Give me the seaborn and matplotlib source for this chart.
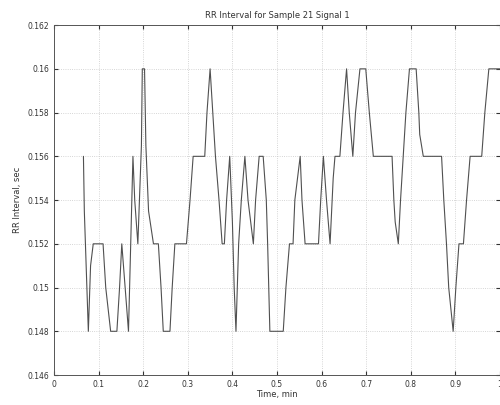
import matplotlib
matplotlib.use("Agg")
import matplotlib.pyplot as plt
import seaborn as sns
import pandas as pd

# vertices of the RR trace
time_min = [0.066, 0.068, 0.077, 0.082, 0.088, 0.110, 0.116, 0.127, 0.141, 0.147,
            0.152, 0.167, 0.172, 0.177, 0.181, 0.188, 0.196, 0.198, 0.203, 0.206,
            0.212, 0.223, 0.234, 0.240, 0.245, 0.260, 0.265, 0.271, 0.297, 0.305,
            0.312, 0.338, 0.343, 0.350, 0.356, 0.362, 0.370, 0.377, 0.382, 0.387,
            0.394, 0.400, 0.404, 0.408, 0.414, 0.420, 0.428, 0.435, 0.441, 0.447,
            0.452, 0.460, 0.469, 0.476, 0.479, 0.484, 0.514, 0.520, 0.528, 0.536,
            0.540, 0.552, 0.556, 0.563, 0.593, 0.598, 0.604, 0.611, 0.619, 0.626,
            0.630, 0.641, 0.648, 0.656, 0.662, 0.670, 0.676, 0.686, 0.699, 0.707,
            0.716, 0.758, 0.762, 0.765, 0.772, 0.777, 0.783, 0.789, 0.797, 0.812,
            0.818, 0.820, 0.828, 0.869, 0.874, 0.880, 0.885, 0.895, 0.901, 0.908,
            0.918, 0.925, 0.933, 0.959, 0.966, 0.975, 1.000]
rr_sec = [0.156, 0.1535, 0.148, 0.151, 0.152, 0.152, 0.150, 0.148, 0.148, 0.150,
          0.152, 0.148, 0.152, 0.156, 0.154, 0.152, 0.1565, 0.160, 0.160, 0.1565,
          0.1535, 0.152, 0.152, 0.150, 0.148, 0.148, 0.150, 0.152, 0.152, 0.154,
          0.156, 0.156, 0.158, 0.160, 0.158, 0.156, 0.154, 0.152, 0.152, 0.154,
          0.156, 0.153, 0.150, 0.148, 0.152, 0.154, 0.156, 0.154, 0.153, 0.152,
          0.154, 0.156, 0.156, 0.154, 0.152, 0.148, 0.148, 0.150, 0.152, 0.152,
          0.154, 0.156, 0.154, 0.152, 0.152, 0.154, 0.156, 0.154, 0.152, 0.155,
          0.156, 0.156, 0.158, 0.160, 0.158, 0.156, 0.158, 0.160, 0.160, 0.158,
          0.156, 0.156, 0.154, 0.153, 0.152, 0.154, 0.156, 0.158, 0.160, 0.160,
          0.158, 0.157, 0.156, 0.156, 0.154, 0.152, 0.150, 0.148, 0.150, 0.152,
          0.152, 0.154, 0.156, 0.156, 0.158, 0.160, 0.160]

x_ticks = [0, 0.1, 0.2, 0.3, 0.4, 0.5, 0.6, 0.7, 0.8, 0.9, 1]
x_labels = ["0", "0.1", "0.2", "0.3", "0.4", "0.5", "0.6", "0.7", "0.8", "0.9", "1"]
y_ticks = [0.146, 0.148, 0.15, 0.152, 0.154, 0.156, 0.158, 0.16, 0.162]
y_labels = ["0.146", "0.148", "0.15", "0.152", "0.154", "0.156", "0.158", "0.16", "0.162"]

sns.set_style("white")
plt.rcParams['font.family'] = ['DejaVu Sans']

df = pd.DataFrame({"time": time_min, "rr": rr_sec})

fig = plt.figure(figsize=(5.0, 4.05), dpi=100)
ax = fig.add_axes([0.108, 0.074, 0.892, 0.864])

sns.lineplot(data=df, x="time", y="rr", sort=False, estimator=None,
             color="#505050", linewidth=0.8, ax=ax)

ax.set_xlim(0, 1)
ax.set_ylim(0.146, 0.162)
ax.set_xticks(x_ticks)
ax.set_xticklabels(x_labels)
ax.set_yticks(y_ticks)
ax.set_yticklabels(y_labels)
ax.grid(True, linestyle=":", color="#c8c8c8", linewidth=0.6)
ax.tick_params(direction="in", length=3, labelsize=5.5, colors="#333333",
               top=True, right=True, bottom=True, left=True)
for s in ax.spines.values():
    s.set_color("#555555")
    s.set_linewidth(0.7)

ax.set_title("RR Interval for Sample 21 Signal 1", fontsize=6, color="#333333", pad=5)
ax.set_xlabel("Time, min", fontsize=6, color="#333333", labelpad=1)
ax.set_ylabel("RR Interval, sec", fontsize=6, color="#333333", labelpad=4)

fig.savefig("out.png", dpi=100)
